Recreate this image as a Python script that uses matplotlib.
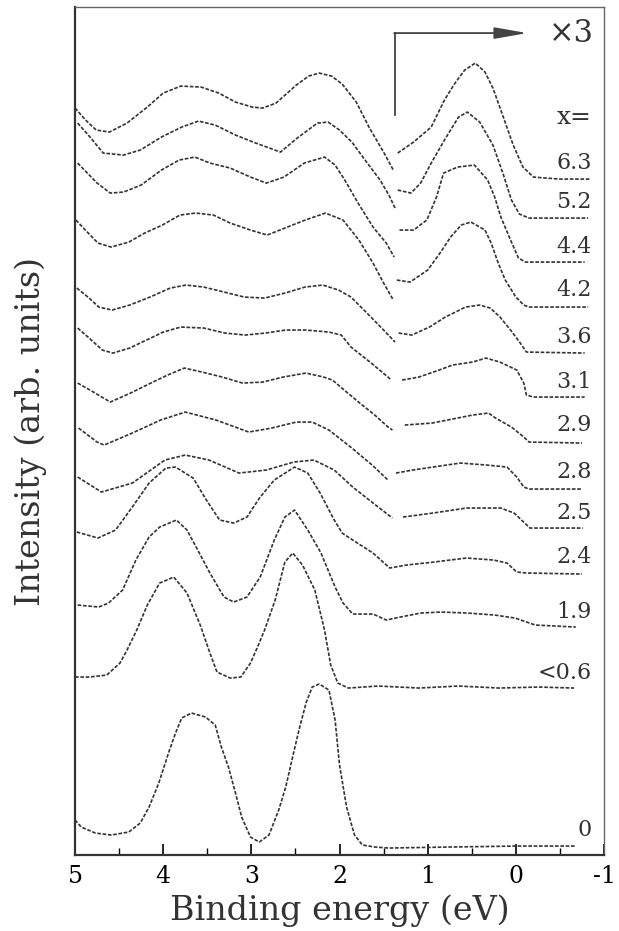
import matplotlib
matplotlib.use('Agg')
import matplotlib.pyplot as plt
from matplotlib.ticker import MultipleLocator

nan = float('nan')

# spectra, binding energy (eV) and intensity (arb. units, offsets included)
# nan marks the break where the low-energy side is multiplied by 3
e_63 = [5.00, 4.88, 4.76, 4.61, 4.41, 4.18, 4.00, 3.80, 3.57, 3.37, 3.18, 2.99, 2.87, 2.72, 2.49, 2.35, 2.23, 2.09, 1.97, 1.81, 1.66, 1.50, 1.39,
        nan, 1.34, 1.16, 0.96, 0.81, 0.69, 0.58, 0.46, 0.35, 0.26, 0.15, 0.03, -0.08, -0.20, -0.49, -0.84]
i_63 = [747, 735, 725, 723, 732, 748, 762, 769, 768, 762, 753, 748, 747, 752, 770, 779, 782, 779, 771, 753, 727, 703, 685,
        nan, 702, 713, 728, 755, 772, 785, 792, 783, 767, 740, 710, 688, 678, 676, 676]

e_52 = [4.97, 4.83, 4.68, 4.45, 4.26, 4.02, 3.79, 3.60, 3.41, 3.18, 2.95, 2.67, 2.48, 2.25, 2.13, 2.00, 1.86, 1.71, 1.54, 1.44, 1.37,
        nan, 1.34, 1.19, 1.08, 0.96, 0.81, 0.65, 0.55, 0.41, 0.26, 0.14, 0.05, -0.04, -0.15, -0.49, -0.82]
i_52 = [732, 718, 702, 700, 705, 718, 728, 734, 730, 720, 712, 703, 717, 732, 733, 725, 713, 695, 675, 660, 647,
        nan, 665, 662, 672, 692, 715, 738, 743, 733, 710, 680, 655, 641, 637, 637, 637]

e_44 = [4.97, 4.86, 4.75, 4.60, 4.45, 4.25, 4.02, 3.82, 3.64, 3.47, 3.24, 3.01, 2.83, 2.63, 2.40, 2.17, 2.05, 1.94, 1.79, 1.62, 1.47, 1.38,
        nan, 1.32, 1.16, 1.01, 0.90, 0.82, 0.66, 0.47, 0.32, 0.24, 0.17, 0.06, -0.03, -0.11, -0.78]
i_44 = [692, 682, 672, 662, 663, 670, 685, 695, 698, 692, 687, 678, 672, 678, 692, 698, 690, 675, 652, 628, 612, 598,
        nan, 625, 625, 635, 658, 682, 688, 690, 675, 658, 638, 615, 597, 593, 593]

e_42 = [4.99, 4.85, 4.74, 4.59, 4.39, 4.21, 4.01, 3.81, 3.63, 3.43, 3.24, 3.01, 2.82, 2.62, 2.39, 2.16, 1.96, 1.78, 1.62, 1.50, 1.39,
        nan, 1.35, 1.20, 1.00, 0.86, 0.74, 0.62, 0.51, 0.35, 0.28, 0.20, 0.12, 0.00, -0.09, -0.15, -0.82]
i_42 = [635, 622, 612, 608, 613, 622, 630, 640, 642, 640, 632, 625, 620, 627, 635, 642, 635, 615, 592, 572, 555,
        nan, 575, 573, 585, 602, 618, 630, 633, 625, 612, 592, 575, 558, 550, 548, 548]

e_36 = [4.98, 4.84, 4.73, 4.58, 4.38, 4.15, 3.92, 3.74, 3.54, 3.31, 3.08, 2.85, 2.62, 2.39, 2.19, 2.01, 1.87, 1.70, 1.50, 1.37,
        nan, 1.33, 1.18, 0.98, 0.80, 0.57, 0.41, 0.29, 0.18, 0.06, -0.05, -0.12, -0.78]
i_36 = [567, 557, 548, 545, 550, 558, 567, 570, 568, 563, 558, 557, 562, 568, 570, 565, 558, 543, 525, 513,
        nan, 522, 520, 528, 538, 548, 550, 547, 538, 525, 512, 503, 502]

e_31 = [4.97, 4.84, 4.69, 4.57, 4.38, 4.19, 4.00, 3.80, 3.54, 3.30, 3.07, 2.84, 2.61, 2.38, 2.12, 1.98, 1.87, 1.64, 1.41,
        nan, 1.29, 1.10, 0.87, 0.72, 0.49, 0.34, 0.18, -0.01, -0.09, -0.12, -0.20, -0.78]
i_31 = [527, 517, 505, 502, 507, 515, 523, 528, 527, 522, 520, 522, 525, 525, 523, 520, 508, 492, 475,
        nan, 475, 478, 485, 490, 493, 497, 493, 485, 472, 460, 458, 458]

e_29 = [4.97, 4.83, 4.60, 4.37, 4.14, 3.95, 3.76, 3.56, 3.33, 3.10, 2.87, 2.64, 2.38, 2.18, 2.08, 1.92, 1.77, 1.60, 1.45, 1.40,
        nan, 1.26, 0.95, 0.49, 0.31, 0.23, 0.05, -0.09, -0.15, -0.75]
i_29 = [472, 465, 453, 462, 472, 480, 487, 483, 478, 472, 473, 478, 482, 478, 475, 463, 452, 440, 428, 425,
        nan, 430, 432, 440, 442, 437, 428, 418, 413, 412]

e_28 = [4.96, 4.75, 4.67, 4.35, 4.03, 3.75, 3.40, 3.03, 2.77, 2.49, 2.31, 2.12, 1.86, 1.63, 1.45,
        nan, 1.36, 1.17, 0.94, 0.63, 0.33, 0.10, -0.01, -0.09, -0.15, -0.75]
i_28 = [427, 413, 410, 422, 435, 443, 435, 423, 427, 433, 433, 425, 407, 390, 375,
        nan, 382, 385, 388, 392, 390, 388, 378, 368, 366, 366]

e_25 = [4.97, 4.70, 4.35, 3.98, 3.75, 3.48, 3.14, 2.83, 2.52, 2.29, 2.06, 1.85, 1.62, 1.40,
        nan, 1.28, 0.94, 0.56, 0.17, 0.02, -0.10, -0.16, -0.76]
i_25 = [378, 363, 372, 395, 400, 395, 382, 385, 393, 395, 385, 368, 352, 337,
        nan, 338, 342, 347, 347, 342, 332, 327, 327]

e_24 = [4.98, 4.74, 4.54, 4.35, 4.16, 3.97, 3.86, 3.66, 3.51, 3.36, 3.20, 3.05, 2.90, 2.74, 2.51, 2.36, 2.22, 2.06, 1.97, 1.85,
        1.62, 1.43, 1.24, 0.93, 0.56, 0.25, 0.10, -0.01, -0.13, -0.75]
i_24 = [323, 317, 325, 348, 372, 387, 388, 377, 355, 335, 332, 338, 358, 375, 388, 382, 362, 335, 322, 315,
        302, 287, 290, 293, 297, 295, 292, 283, 282, 281]

e_19 = [4.97, 4.73, 4.62, 4.46, 4.31, 4.16, 4.04, 3.85, 3.73, 3.59, 3.47, 3.31, 3.20, 3.05, 2.90, 2.74, 2.62, 2.51, 2.36, 2.21,
        2.05, 1.96, 1.85, 1.62, 1.47, 1.31, 1.08, 0.85, 0.55, 0.24, 0.01, -0.22, -0.68]
i_19 = [250, 248, 252, 265, 295, 318, 328, 335, 325, 302, 282, 258, 253, 258, 278, 315, 338, 345, 325, 302,
        268, 252, 241, 241, 235, 238, 242, 243, 242, 240, 237, 230, 228]

e_06 = [5.00, 4.84, 4.64, 4.49, 4.41, 4.30, 4.18, 4.04, 3.88, 3.73, 3.58, 3.47, 3.39, 3.24, 3.12, 3.01, 2.93, 2.85, 2.73, 2.62,
        2.53, 2.42, 2.28, 2.17, 2.10, 2.02, 1.90, 1.56, 1.10, 0.65, 0.19, -0.26, -0.66]
i_06 = [178, 178, 180, 192, 205, 225, 250, 272, 278, 262, 230, 202, 183, 177, 178, 192, 208, 225, 255, 293,
        302, 290, 265, 225, 190, 172, 167, 169, 167, 169, 167, 168, 167]

e_00 = [5.00, 4.93, 4.77, 4.59, 4.39, 4.26, 4.16, 4.05, 3.94, 3.86, 3.79, 3.68, 3.52, 3.41, 3.34, 3.26, 3.18, 3.11, 3.01, 2.91,
        2.80, 2.69, 2.61, 2.54, 2.46, 2.38, 2.31, 2.23, 2.12, 2.05, 2.00, 1.92, 1.83, 1.74, 1.60, 1.44, 0.75, -0.04, -0.67]
i_00 = [35, 28, 22, 20, 23, 32, 48, 72, 102, 122, 137, 142, 138, 130, 108, 88, 62, 38, 18, 13,
        20, 45, 68, 95, 125, 152, 168, 171, 165, 135, 90, 48, 20, 10, 8, 7, 8, 9, 9]

labels = ['6.3', '5.2', '4.4', '4.2', '3.6', '3.1', '2.9', '2.8', '2.5', '2.4', '1.9', '<0.6', '0']
label_i = [692, 653, 608, 565, 518, 473, 430, 383, 342, 298, 243, 182, 25]

spectra = [(e_63, i_63), (e_52, i_52), (e_44, i_44), (e_42, i_42), (e_36, i_36), (e_31, i_31),
           (e_29, i_29), (e_28, i_28), (e_25, i_25), (e_24, i_24), (e_19, i_19), (e_06, i_06), (e_00, i_00)]

plt.rcParams['font.family'] = 'DejaVu Serif'
plt.rcParams['axes.unicode_minus'] = False

fig = plt.figure(figsize=(6.19, 9.31), dpi=100)
ax = fig.add_axes([0.1212, 0.0816, 0.8546, 0.9108])

for e, i in spectra:
    ax.plot(e, i, ls=(0, (2.2, 1.0)), lw=1.2, color='#333333')

for lab, li in zip(labels, label_i):
    ax.text(-0.86, li, lab, ha='right', va='center', fontsize=16, color='#333333')

ax.text(-0.86, 738, 'x=', ha='right', va='center', fontsize=18, color='#333333')

# x3 arrow
ax.plot([1.37, 1.37], [740, 822], color='#444444', lw=1.3)
ax.annotate('', xy=(-0.13, 822), xytext=(1.38, 822),
            arrowprops=dict(arrowstyle='-|>,head_length=2.0,head_width=0.35', lw=1.3, color='#444444',
                            shrinkA=0, shrinkB=0))
ax.text(-0.88, 822, '×3', ha='right', va='center', fontsize=22, color='#333333')

ax.set_xlim(5, -1)
ax.set_ylim(0, 848)
ax.xaxis.set_major_locator(MultipleLocator(1))
ax.xaxis.set_minor_locator(MultipleLocator(0.5))
ax.set_xticks([5, 4, 3, 2, 1, 0, -1])
ax.set_xticklabels(['5', '4', '3', '2', '1', '0', '-1'])
ax.tick_params(axis='x', which='major', direction='in', length=8, width=1.2, labelsize=17, pad=7, top=False)
ax.tick_params(axis='x', which='minor', direction='in', length=5, width=1.0, top=False)
ax.set_yticks([])

for side in ['left', 'bottom']:
    ax.spines[side].set_linewidth(1.6)
    ax.spines[side].set_color('#333333')
for side in ['top', 'right']:
    ax.spines[side].set_linewidth(1.0)
    ax.spines[side].set_color('#666666')

ax.set_xlabel('Binding energy (eV)', fontsize=24, labelpad=5, color='#333333')
ax.set_ylabel('Intensity (arb. units)', fontsize=24, labelpad=20, color='#333333')

fig.savefig('out.png', dpi=100)
